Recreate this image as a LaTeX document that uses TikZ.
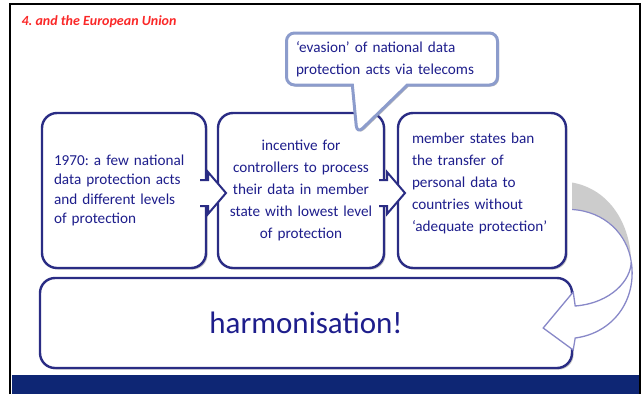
\documentclass[tikz,border=0pt]{standalone}
\usepackage{fontspec}
\setmainfont{Carlito}
\frenchspacing
\usetikzlibrary{shapes,shapes.callouts,arrows.meta,positioning,calc,shadows}
\definecolor{boxblue}{RGB}{42,44,132}
\definecolor{txtblue}{RGB}{30,30,140}
\definecolor{bandblue}{RGB}{14,38,116}
\definecolor{callblue}{RGB}{140,156,204}
\definecolor{lav}{RGB}{136,136,200}
\definecolor{titred}{RGB}{250,40,40}

\begin{document}
\begin{tikzpicture}[x=1pt,y=-1pt,
  stepbox/.style={draw=boxblue,line width=2.4pt,rounded corners=15pt,fill=white,minimum height=155pt,inner sep=0pt,
    drop shadow={shadow xshift=1.6pt,shadow yshift=-1.6pt,opacity=.45},text=txtblue,font=\fontsize{15.2}{22}\selectfont},
  chev/.style={fill=white,draw=boxblue,line width=2pt,line join=miter}]
\useasboundingbox (0,0) rectangle (644,394);
\draw[line width=2.5pt] (10,394) -- (10,4) -- (640,4) -- (640,394);
\fill[bandblue] (11.5,375) rectangle (638.5,394);
\node[anchor=west,text=titred,font=\fontsize{14}{16}\selectfont\bfseries\itshape] (title) at (18,22) {4. and the European Union};
% boxes
\node[stepbox,minimum width=164pt,text width=140pt,align=left,font=\fontsize{15.2}{19.5}\selectfont] (b1) at (124,190.5) {1970: a few national\\ data protection acts\\ and different levels\\ of protection};
\node[stepbox,minimum width=166pt,text width=160pt,align=center] (b2) at (301,190.5) {incentive for\\ controllers to process\\ their data in member\\ state with lowest level\\ of protection};
\node[stepbox,minimum width=168pt] (b3) at (482,190.5) {};
% back of the round arrow
\coordinate (rt) at ($(b3.east)+(64,71)$);
\fill[gray!40] ($(b3.east)+(5,-8)$) .. controls ($(b3.east)+(43,-1)$) and ($(b3.east)+(63,34)$) .. (rt)
  .. controls ($(b3.east)+(60,44)$) and ($(b3.east)+(38,21)$) .. ($(b3.east)+(5,19)$) -- cycle;
\draw[lav,line width=1.2pt] (rt) .. controls ($(b3.east)+(60,44)$) and ($(b3.east)+(38,21)$) .. ($(b3.east)+(5,19)$);
\node[text=txtblue,font=\fontsize{15.2}{22}\selectfont,text width=154pt,align=left] (b3t) at ($(b3.center)+(7,-7)$) {member states ban\\ the transfer of\\ personal data to\\ countries without\\ ‘adequate protection’};
\node[stepbox,minimum width=532pt,minimum height=90pt,font=\fontsize{31}{34}\selectfont] (hb) at (306,323) {harmonisation!};
% arrows between the steps
\foreach \a/\b in {b1/b2,b2/b3}{
  \coordinate (m) at ($(\a.east)!.5!(\b.west)+(0,2.5)$);
  \filldraw[chev] ([shift={(-12,-13)}]m) -- ++(8,0) -- ++(0,-8) -- ++(18,21) -- ++(-18,21) -- ++(0,-8) -- ++(-8,0);}
% front of the round arrow
\filldraw[fill=white,draw=lav,line width=1.3pt,line join=miter] (rt) .. controls ($(hb.east)+(58,-43)$) and ($(hb.east)+(38,-20)$) .. ($(hb.east)+(2,-17)$)
  -- ++(-2,-14) -- ($(hb.east)+(-30,5)$) -- ($(hb.east)+(0,27)$) -- ++(2,-12)
  .. controls ($(hb.east)+(40,10)$) and ($(hb.east)+(64,-23)$) .. (rt) -- cycle;
% callout
\node[rectangle callout,draw=callblue,line width=3pt,fill=white,rounded corners=8pt,minimum width=211pt,minimum height=52pt,
  callout absolute pointer={($(b2.north)+(56,22)$)},callout pointer width=55pt,
  drop shadow={shadow xshift=1.5pt,shadow yshift=-1.5pt,opacity=.55},text=txtblue,font=\fontsize{15.2}{22}\selectfont,
  text width=192pt,align=left] (ev) at (392,59) {‘evasion’ of national data\\ protection acts via telecoms};
\end{tikzpicture}
\end{document}
